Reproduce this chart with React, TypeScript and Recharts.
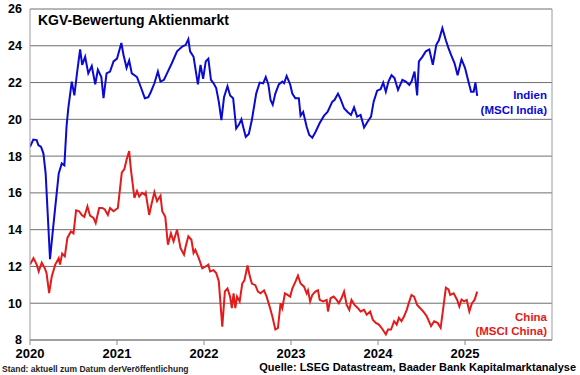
import React from "react";
import { LineChart, Line, XAxis, YAxis, CartesianGrid, ReferenceLine } from "recharts";

const yearTicks = [2020, 2021, 2022, 2023, 2024, 2025];
const peTicks = [8, 10, 12, 14, 16, 18, 20, 22, 24, 26];

const indiaYears = [
  2020.0, 2020.038, 2020.077, 2020.096, 2020.127, 2020.154, 2020.18, 2020.23, 2020.27, 2020.33,
  2020.365, 2020.395, 2020.42, 2020.44, 2020.48, 2020.51, 2020.54, 2020.576, 2020.6, 2020.634,
  2020.67, 2020.71, 2020.75, 2020.78, 2020.82, 2020.845, 2020.88, 2020.92, 2020.96, 2021.0,
  2021.05, 2021.075, 2021.11, 2021.14, 2021.17, 2021.23, 2021.27, 2021.32, 2021.36, 2021.39,
  2021.43, 2021.47, 2021.5, 2021.54, 2021.575, 2021.63, 2021.69, 2021.75, 2021.79, 2021.82,
  2021.84, 2021.88, 2021.93, 2021.96, 2021.99, 2022.02, 2022.05, 2022.08, 2022.11, 2022.14,
  2022.17, 2022.2, 2022.23, 2022.27, 2022.3, 2022.335, 2022.37, 2022.4, 2022.43, 2022.45,
  2022.48, 2022.515, 2022.55, 2022.6, 2022.64, 2022.68, 2022.71, 2022.74, 2022.765, 2022.79,
  2022.82, 2022.86, 2022.9, 2022.92, 2022.95, 2022.99, 2023.015, 2023.05, 2023.09, 2023.11,
  2023.14, 2023.18, 2023.21, 2023.245, 2023.28, 2023.33, 2023.38, 2023.42, 2023.475, 2023.5,
  2023.54, 2023.57, 2023.61, 2023.65, 2023.69, 2023.725, 2023.76, 2023.8, 2023.84, 2023.88,
  2023.92, 2023.95, 2023.99, 2024.03, 2024.06, 2024.09, 2024.12, 2024.155, 2024.19, 2024.23,
  2024.28, 2024.32, 2024.36, 2024.385, 2024.42, 2024.45, 2024.47, 2024.51, 2024.55, 2024.59,
  2024.63, 2024.67, 2024.7, 2024.74, 2024.78, 2024.81, 2024.84, 2024.88, 2024.915, 2024.96,
  2025.0, 2025.04, 2025.07, 2025.1, 2025.12, 2025.14,
];
const indiaPE = [
  18.5, 18.9, 18.87, 18.6, 18.5, 18.15, 17.05, 12.4, 14.3, 17.05,
  17.6, 17.5, 19.6, 20.6, 22.05, 21.3, 22.5, 23.8, 22.96, 23.4,
  22.5, 22.9, 21.9, 22.7, 22.3, 21.15, 22.5, 22.6, 23.15, 23.3,
  24.15, 23.5, 22.8, 23.2, 22.5, 22.3, 21.8, 21.15, 21.2, 21.5,
  21.96, 22.6, 22.05, 22.15, 22.5, 23.05, 23.7, 23.96, 24.05, 24.36,
  23.7, 23.4, 21.9, 22.96, 22.2, 23.15, 23.3, 22.15, 21.96, 21.7,
  20.96, 19.96, 21.2, 21.8, 21.3, 21.15, 19.5, 19.7, 20.0, 19.6,
  19.05, 19.2, 19.96, 21.4, 22.0, 21.96, 22.3, 21.9, 21.05, 20.8,
  21.4, 21.9, 22.05, 21.96, 22.36, 21.9, 21.4, 21.15, 21.15, 20.2,
  20.4, 19.6, 19.15, 19.0, 19.3, 19.8, 20.2, 20.4, 20.96, 21.05,
  21.4, 21.1, 20.6, 20.4, 20.24, 20.65, 20.15, 20.24, 19.56, 19.87,
  20.15, 20.96, 21.56, 21.64, 22.0, 21.5, 22.05, 22.4, 22.24, 21.6,
  22.15, 22.05, 21.87, 22.05, 22.6, 21.3, 23.15, 23.4, 23.7, 23.8,
  22.96, 24.05, 24.3, 24.96, 24.3, 23.87, 23.5, 23.05, 22.4, 23.27,
  22.8, 22.05, 21.5, 21.5, 22.0, 21.27,
];

const chinaYears = [
  2020.0, 2020.04, 2020.077, 2020.1, 2020.135, 2020.17, 2020.19, 2020.22, 2020.25, 2020.29,
  2020.33, 2020.345, 2020.37, 2020.4, 2020.43, 2020.47, 2020.5, 2020.53, 2020.565, 2020.595,
  2020.625, 2020.66, 2020.69, 2020.73, 2020.755, 2020.795, 2020.83, 2020.86, 2020.895, 2020.92,
  2020.96, 2021.01, 2021.055, 2021.085, 2021.11, 2021.14, 2021.16, 2021.2, 2021.23, 2021.255,
  2021.29, 2021.32, 2021.33, 2021.37, 2021.4, 2021.43, 2021.46, 2021.5, 2021.52, 2021.555,
  2021.585, 2021.62, 2021.65, 2021.69, 2021.73, 2021.77, 2021.79, 2021.82, 2021.855, 2021.88,
  2021.9, 2021.94, 2021.98, 2022.02, 2022.05, 2022.07, 2022.11, 2022.14, 2022.17, 2022.21,
  2022.24, 2022.27, 2022.3, 2022.32, 2022.34, 2022.36, 2022.38, 2022.41, 2022.44, 2022.465,
  2022.5, 2022.525, 2022.55, 2022.59, 2022.62, 2022.65, 2022.69, 2022.72, 2022.76, 2022.785,
  2022.82, 2022.85, 2022.88, 2022.9, 2022.93, 2022.96, 2022.99, 2023.015, 2023.05, 2023.08,
  2023.11, 2023.15, 2023.18, 2023.195, 2023.22, 2023.245, 2023.28, 2023.31, 2023.33, 2023.37,
  2023.41, 2023.425, 2023.455, 2023.49, 2023.525, 2023.55, 2023.58, 2023.61, 2023.64, 2023.67,
  2023.695, 2023.73, 2023.77, 2023.8, 2023.84, 2023.87, 2023.91, 2023.94, 2023.975, 2024.01,
  2024.05, 2024.09, 2024.115, 2024.15, 2024.185, 2024.215, 2024.24, 2024.27, 2024.3, 2024.33,
  2024.36, 2024.385, 2024.415, 2024.45, 2024.485, 2024.52, 2024.56, 2024.61, 2024.645, 2024.685,
  2024.72, 2024.75, 2024.78, 2024.81, 2024.83, 2024.87, 2024.91, 2024.935, 2024.96, 2024.99,
  2025.02, 2025.05, 2025.08, 2025.11, 2025.14,
];
const chinaPE = [
  12.1, 12.45, 12.1, 11.73, 12.2, 11.9, 11.64, 10.55, 11.45, 12.1,
  12.45, 12.1, 12.7, 12.55, 13.55, 13.9, 13.8, 15.05, 15.0, 14.8,
  14.7, 15.27, 14.76, 14.64, 14.36, 15.18, 15.18, 15.1, 14.8, 15.18,
  15.0, 15.18, 17.1, 17.3, 17.8, 18.27, 17.27, 15.73, 16.1, 15.8,
  16.0, 15.9, 16.0, 14.8, 15.45, 16.04, 15.55, 15.85, 15.0, 14.7,
  13.18, 13.8, 13.36, 14.0, 13.0, 12.64, 13.1, 13.64, 13.45, 12.73,
  12.9, 12.45, 11.9, 12.0, 12.1, 11.73, 11.8, 11.64, 11.2, 8.73,
  10.64, 10.8, 10.36, 9.73, 10.54, 9.73, 10.36, 10.1, 11.07, 11.25,
  12.05, 11.5, 11.07, 10.98, 10.63, 10.54, 10.7, 10.36, 9.73, 9.29,
  8.57, 8.66, 10.0, 9.73, 10.54, 10.45, 10.36, 10.8, 11.16, 11.5,
  11.07, 10.9, 10.54, 10.7, 10.1, 10.45, 10.63, 10.7, 10.18, 10.1,
  10.18, 9.55, 10.27, 10.36, 10.18, 10.0, 10.27, 10.63, 9.91, 9.64,
  10.18, 9.91, 9.73, 9.55, 9.64, 9.38, 9.55, 9.1, 8.93, 8.84,
  8.6, 8.3, 8.57, 8.57, 9.02, 8.84, 9.2, 9.02, 9.29, 9.64,
  10.1, 10.45, 10.36, 9.9, 9.73, 9.55, 9.29, 8.75, 9.02, 8.93,
  8.66, 9.73, 10.84, 10.75, 10.45, 10.54, 10.18, 9.82, 10.2, 10.1,
  10.18, 9.55, 10.0, 10.18, 10.63,
];

const indiaData = indiaYears.map((x, i) => ({ x, v: indiaPE[i] }));
const chinaData = chinaYears.map((x, i) => ({ x, v: chinaPE[i] }));

const FONT = '"Liberation Sans", Arial, sans-serif';
const BLUE = "#0a0ad2";
const RED = "#e31b1b";

export default function App() {
  return (
    <div style={{ position: "absolute", left: 0, top: 0, width: 580, height: 375, background: "#fff", fontFamily: FONT }}>
      <LineChart width={580} height={375} margin={{ top: 9, right: 28, left: 0, bottom: 0 }}>
        <CartesianGrid vertical={false} stroke="#6f6f6f" strokeWidth={1} />
        <XAxis
          type="number"
          dataKey="x"
          domain={[2020, 2026]}
          ticks={yearTicks}
          allowDataOverflow
          height={35}
          stroke="#8a8a8a"
          tickSize={5}
          tickMargin={4}
          tick={{ fill: "#000", fontSize: 13, fontWeight: "bold", fontFamily: FONT }}
        />
        <YAxis
          type="number"
          domain={[8, 26]}
          ticks={peTicks}
          width={30}
          stroke="#9a9a9a"
          tickLine={false}
          tick={{ fill: "#000", fontSize: 12.5, fontWeight: "bold", fontFamily: FONT }}
        />
        <ReferenceLine x={2026} stroke="#9a9a9a" />
        <Line data={indiaData} dataKey="v" type="linear" stroke={BLUE} strokeWidth={2} dot={false} isAnimationActive={false} />
        <Line data={chinaData} dataKey="v" type="linear" stroke={RED} strokeWidth={2} dot={false} isAnimationActive={false} />
      </LineChart>
      <svg width={580} height={375} style={{ position: "absolute", left: 0, top: 0, pointerEvents: "none" }}>
        <text x={38} y={25} fontSize={14} fontWeight="bold" fontFamily={FONT} fill="#000">KGV-Bewertung Aktienmarkt</text>
        <text x={547} y={99} fontSize={11.5} fontWeight="bold" fontFamily={FONT} fill={BLUE} textAnchor="end">Indien</text>
        <text x={547} y={114} fontSize={11.5} fontWeight="bold" fontFamily={FONT} fill={BLUE} textAnchor="end">(MSCI India)</text>
        <text x={547} y={321} fontSize={11.5} fontWeight="bold" fontFamily={FONT} fill={RED} textAnchor="end">China</text>
        <text x={547} y={335} fontSize={11.5} fontWeight="bold" fontFamily={FONT} fill={RED} textAnchor="end">(MSCI China)</text>
        <text x={2} y={372} fontSize={8.5} fontWeight="bold" fontFamily={FONT} fill="#222">Stand: aktuell zum Datum derVeröffentlichung</text>
        <text x={576} y={371} fontSize={11} fontWeight="bold" fontFamily={FONT} fill="#000" textAnchor="end">Quelle: LSEG Datastream, Baader Bank Kapitalmarktanalyse</text>
      </svg>
    </div>
  );
}
